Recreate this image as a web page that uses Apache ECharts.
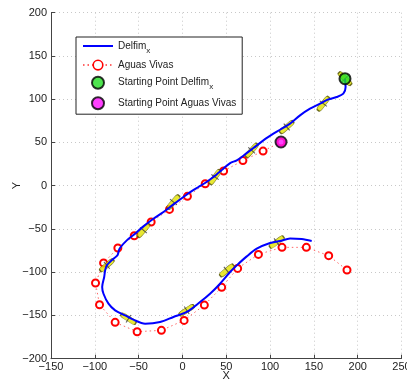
<!DOCTYPE html>
<html><head><meta charset="utf-8">
<script src="https://cdn.jsdelivr.net/npm/echarts@6/dist/echarts.min.js"></script>
<style>html,body{margin:0;padding:0;background:#fff;}#c{width:407px;height:383px;}</style>
</head><body><div id="c"></div>
<script>
// Delfim_x trajectory (x, y)
const delfimX = [185.5,186.2,183.6,176,166.5,157,145.6,134.2,122.8,111.4,103.8,92.4,81,71.5,62,54.4,46.7,35.3,25.8,18.2,10.6,1.1,-10.3,-21.7,-33.1,-44.5,-54,-63.5,-71.8,-74.1,-78.7,-86.3,-88.2,-89.3,-91.6,-90.1,-84.4,-76.8,-65.4,-55.9,-42.6,-25.5,-10.3,4.9,20.1,31.5,42.9,54.4,62,73.4,84.8,100,111.4,122.8,136.1,147.5];
const delfimY = [123.7,114.1,106.4,102.5,99.8,94.8,89,81.3,71.7,64.7,60.1,52.4,43.5,36.2,29.3,26.2,19.7,10,3.1,-1.5,-6.2,-13.1,-21.6,-30.4,-38.2,-47,-55.5,-63.2,-72.8,-80.5,-84.4,-92.1,-97.9,-105.6,-117.1,-124.9,-136.4,-144.1,-149.9,-154.9,-159.5,-157.6,-151.8,-146,-134.5,-124.9,-113.3,-99.8,-92.1,-81.7,-72.8,-66.3,-64,-60.9,-61.7,-64];
// Aguas Vivas (drifter) positions
const aguasX = [112.5,92,69,47,26,5.7,-14.8,-35.7,-55,-73.7,-90,-99.2,-94.6,-76.8,-51.7,-24,1.9,25,44.8,63,86.7,113.6,141.4,166.9,187.8];
const aguasY = [50.5,40,29,17,2.3,-12.3,-27.4,-42,-57.8,-72,-89.4,-112.5,-137.6,-158,-168.8,-167.2,-155.7,-138,-117.5,-95.6,-79.4,-71.3,-71.3,-80.9,-97.5];
// vehicle snapshots along Delfim_x path: x, y, heading (deg)
const vehX = [185.5,160.8,119,79,37.2,-10.3,-44.5,-86.3,-61.6,4.9,50.6,107.6];
const vehY = [123.7,94.8,67.8,40.8,10,-18.9,-51.6,-92,-153.8,-144,-97.9,-65.1];
const vehHeading = [-45,52,41,49,55,50,50,40,-32,33,40,37];
const startDelfim = [185.5,123.7];
const startAguas = [112.5,50.5];
const xTicks = {min:-150,max:250,step:50};
const yTicks = {min:-200,max:200,step:50};

const zip = (a,b) => a.map((v,i)=>[v,b[i]]);
const fmt = v => String(v).replace('-', '\u2212');
const font = 'Liberation Sans, Arial, sans-serif';

const chart = echarts.init(document.getElementById('c'));
const axisCommon = {
  axisLine:{show:true,onZero:false,lineStyle:{color:'#444',width:1}},
  axisTick:{show:true,inside:true,length:4,lineStyle:{color:'#444'}},
  splitLine:{show:true,lineStyle:{color:'#c8c8c8',type:[1,3],width:1}},
  axisLabel:{color:'#222',fontSize:11,fontFamily:font,formatter:fmt},
  nameTextStyle:{color:'#222',fontSize:11,fontFamily:font},
  nameMoveOverlap:false
};
chart.setOption({
  animation:false,
  backgroundColor:'#fff',
  grid:{left:51,right:5.5,top:12.7,bottom:24.3,containLabel:false,outerBoundsMode:'none'},
  xAxis:Object.assign({type:'value',min:xTicks.min,max:xTicks.max,interval:xTicks.step,
    name:'X',nameLocation:'middle',nameGap:12},axisCommon,
    {axisLabel:Object.assign({},axisCommon.axisLabel,{margin:3})}),
  yAxis:Object.assign({type:'value',min:yTicks.min,max:yTicks.max,interval:yTicks.step,
    name:'Y',nameLocation:'middle',nameGap:29},axisCommon,
    {axisLabel:Object.assign({},axisCommon.axisLabel,{margin:4})}),
  legend:{
    orient:'vertical',left:76,top:37,
    backgroundColor:'#fff',borderColor:'#222',borderWidth:1,borderRadius:0,
    padding:[4,6,4,6],itemGap:5,itemWidth:30,itemHeight:12,
    data:[{name:'Delfim',itemStyle:{color:'rgba(0,0,0,0)',borderWidth:0,opacity:0}},
          {name:'Aguas Vivas',itemStyle:{borderWidth:1.6}},
          'Starting Point Delfim','Starting Point Aguas Vivas'],
    formatter: n => n.indexOf('Delfim')>=0 ? '{a|'+n+'}{s|x}' : '{a|'+n+'}',
    textStyle:{fontFamily:font,fontSize:10,color:'#222',
      rich:{a:{fontSize:10,fontFamily:font,color:'#222'},
            s:{fontSize:8,fontFamily:font,color:'#222',padding:[9,0,0,0]}}}
  },
  series:[
    {name:'Aguas Vivas',type:'line',data:zip(aguasX,aguasY),z:2,
     symbol:'circle',symbolSize:7,showSymbol:true,
     lineStyle:{color:'#ff6666',width:1,type:[1.5,3]},
     itemStyle:{color:'#fff',borderColor:'#ff0000',borderWidth:2}},
    {name:'vehicle',type:'scatter',data:vehX.map((x,i)=>[x,vehY[i],vehHeading[i]]),z:3,
     symbol:'roundRect',symbolSize:[17,5],
     symbolRotate:(v)=>v[2],
     itemStyle:{color:'#e2e200',borderColor:'#4a4a00',borderWidth:0.8}},
    {name:'vehicle',type:'scatter',data:vehX.map((x,i)=>[x,vehY[i],vehHeading[i]]),z:3,
     symbol:'rect',symbolSize:[1,9],
     symbolRotate:(v)=>v[2],
     itemStyle:{color:'#333'}},
    {name:'Delfim',type:'line',data:zip(delfimX,delfimY),z:4,smooth:0.3,
     symbol:'none',lineStyle:{color:'#0000ff',width:2},itemStyle:{color:'#0000ff'}},
    {name:'Starting Point Delfim',type:'scatter',data:[startDelfim],z:5,symbolSize:11,
     itemStyle:{color:'#22dd22',borderColor:'#000',borderWidth:2}},
    {name:'Starting Point Aguas Vivas',type:'scatter',data:[startAguas],z:5,symbolSize:11,
     itemStyle:{color:'#ff11ff',borderColor:'#000',borderWidth:2}}
  ]
});
</script></body></html>
